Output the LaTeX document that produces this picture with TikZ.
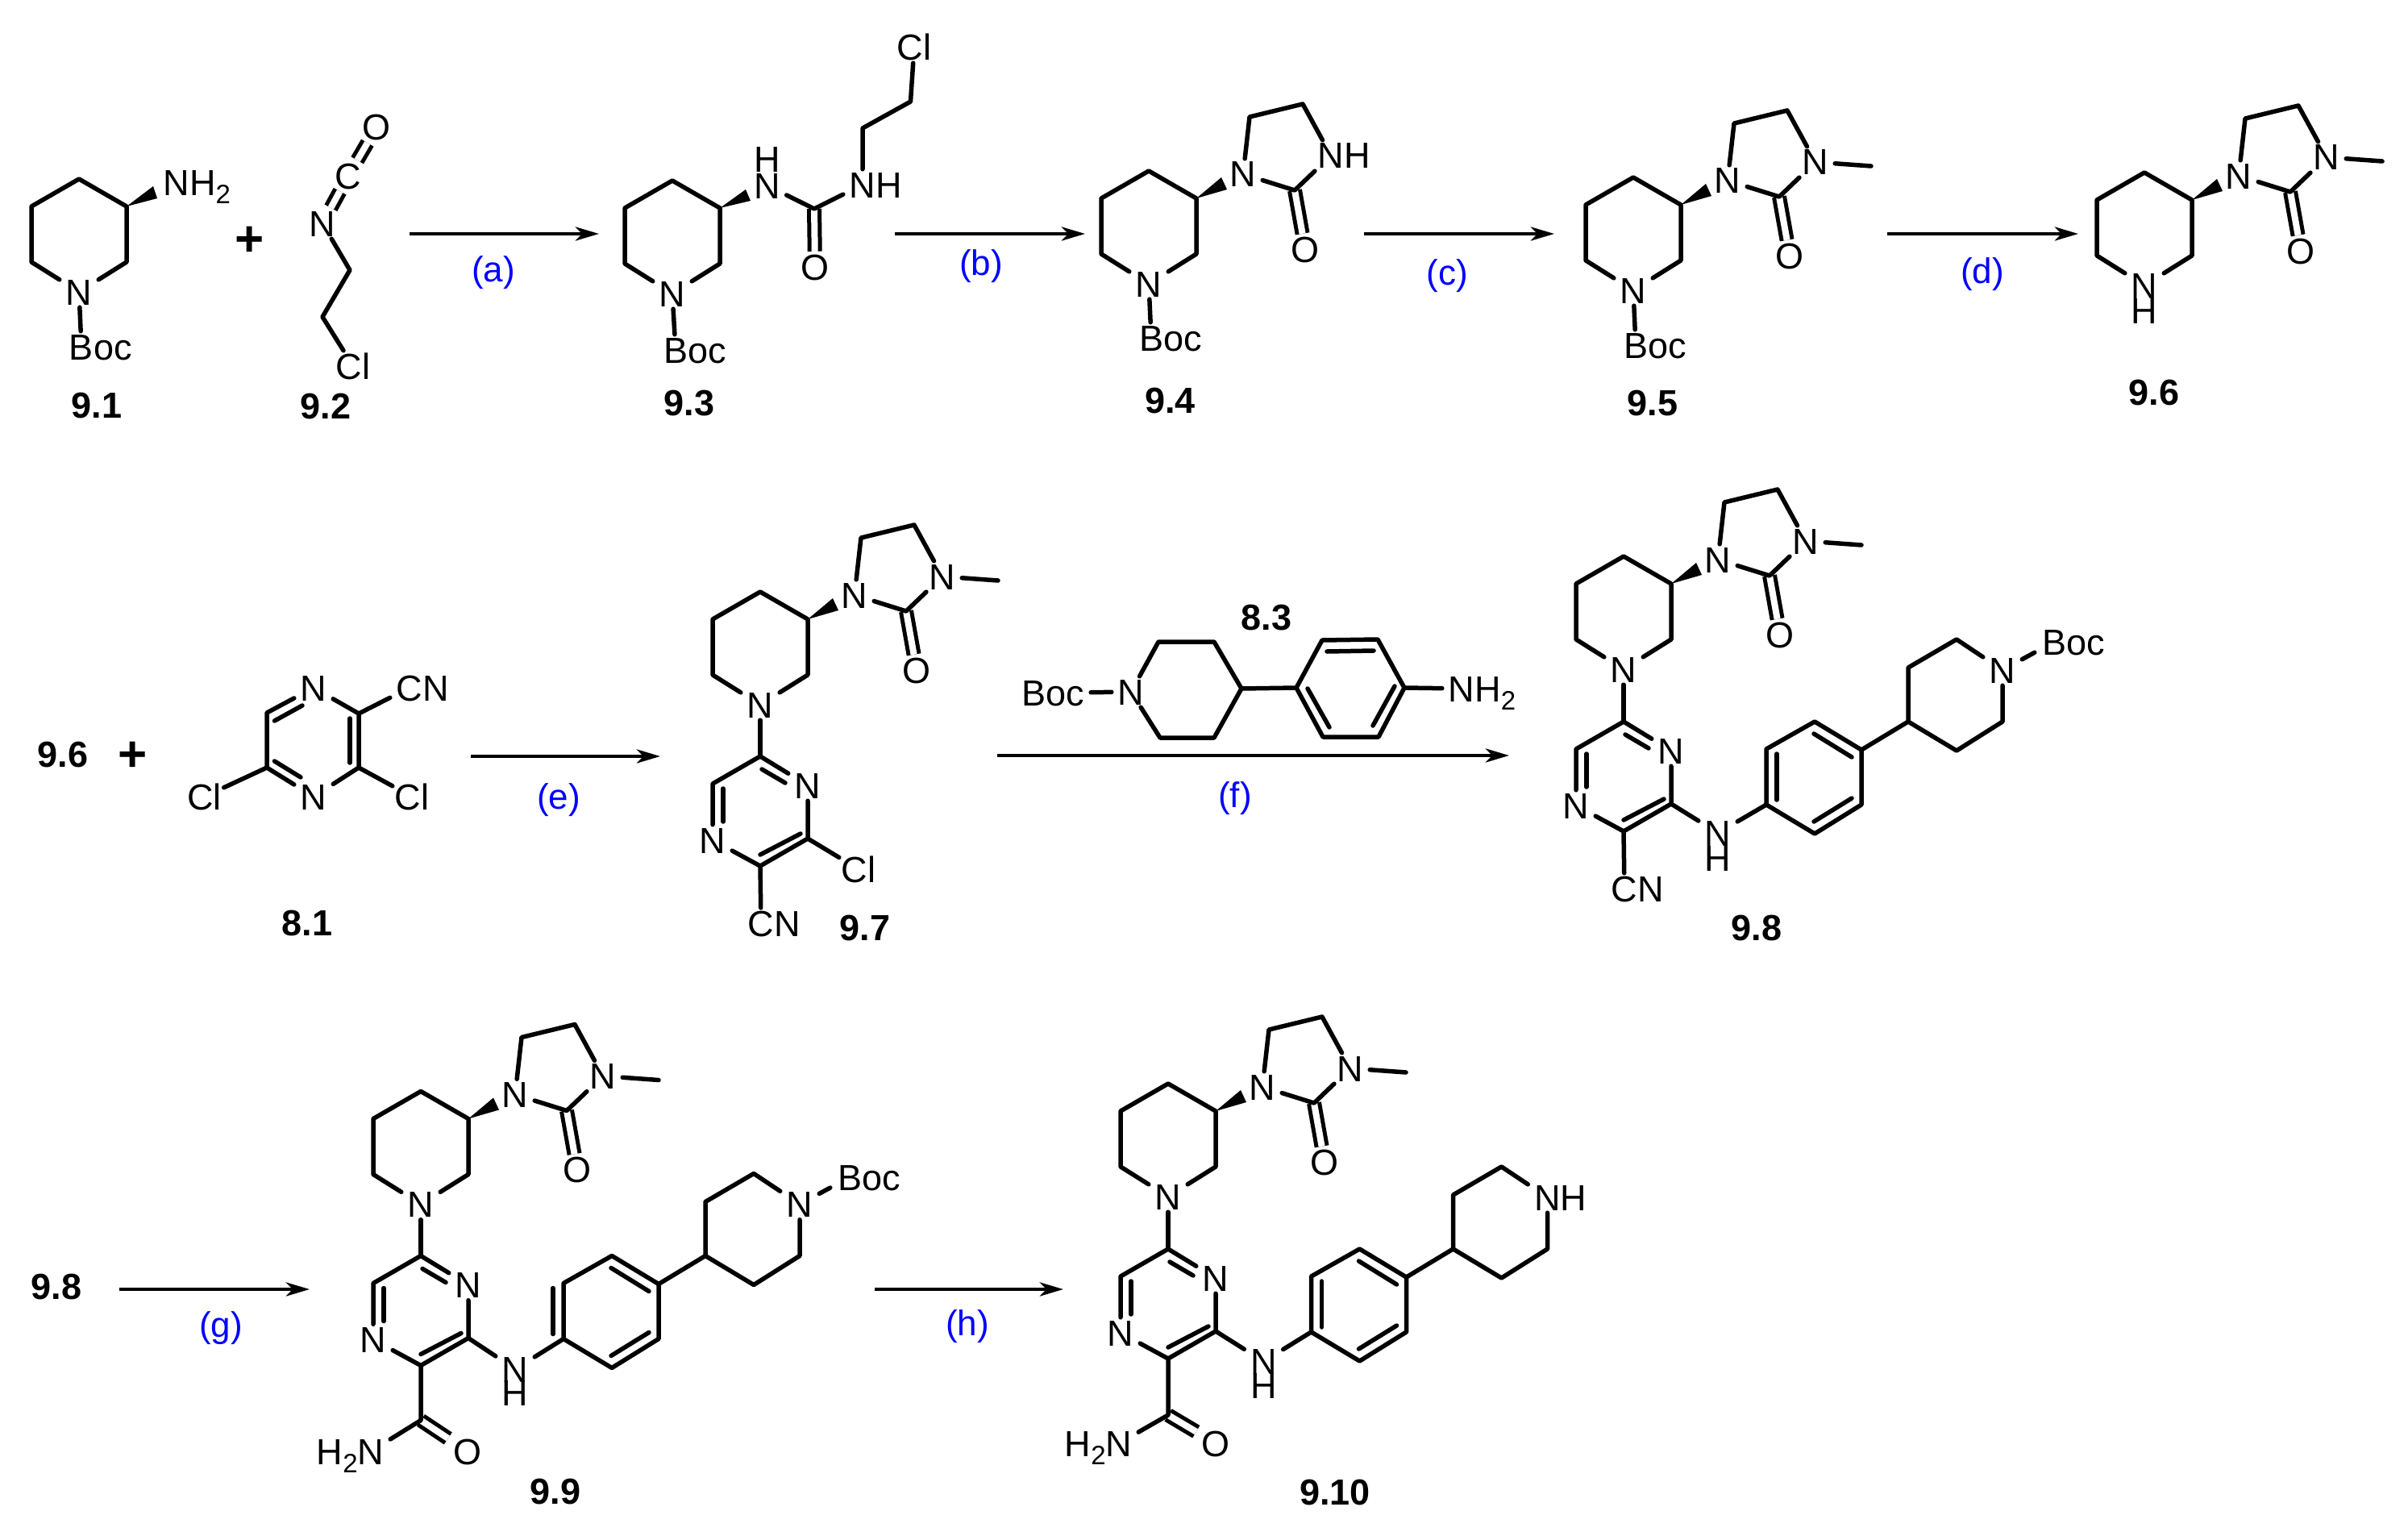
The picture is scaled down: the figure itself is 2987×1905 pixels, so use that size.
\documentclass[tikz,border=0pt]{standalone}
\usepackage{fontspec}
\setmainfont{Liberation Sans}
\usetikzlibrary{arrows.meta}
\newcommand{\subtwo}{\raisebox{-10pt}{\fontsize{33}{33}\selectfont 2}}
\tikzset{
  atom/.style={inner sep=0pt,minimum width=48pt,minimum height=38pt,text height=32pt,text depth=0pt,font=\fontsize{45}{50}\selectfont},
  cpd/.style={inner sep=0pt,text height=32pt,text depth=0pt,font=\fontsize{45}{50}\selectfont\bfseries},
  plus/.style={inner sep=0pt,font=\fontsize{62}{66}\selectfont\bfseries},
  cond/.style={inner sep=0pt,text=blue,font=\fontsize{44}{50}\selectfont},
  bond/.style={line width=5.5pt,line cap=round,line join=round},
  dbond/.style={line width=5pt,double,double distance=8pt,line cap=butt},
  rxn/.style={line width=4.5pt,-{Stealth[length=29pt,width=17pt,inset=8pt]}},
  pics/piper/.style={code={
    \node[atom] (-n) at (0,0) {N};
    \coordinate (-ll) at (-59,-37);
    \coordinate (-ul) at (-59,-106);
    \coordinate (-t) at (0,-140);
    \coordinate (-ur) at (59,-106);
    \coordinate (-lr) at (59,-37);
    \draw[bond] (-n) -- (-ll) -- (-ul) -- (-t) -- (-ur) -- (-lr) -- (-n);
  }},
  pics/imidaz/.style={code={
    \node[atom] (-n1) at (117,-136) {N};
    \node[atom] (-n3) at (226,-159) {#1};
    \node[atom] (-o) at (194,-43) {O};
    \coordinate (-c3) at (59,-106);
    \coordinate (-w1) at (90,-132);
    \coordinate (-w2) at (97,-117);
    \coordinate (-c4) at (125,-207);
    \coordinate (-c5) at (191,-223);
    \coordinate (-c2) at (181,-116);
    \coordinate (-me) at (295,-154);
    \draw[dbond] (-c2) -- (-o);
    \fill (-c3) -- (-w1) -- (-w2) -- cycle;
    \draw[bond] (-n1) -- (-c4) -- (-c5) -- (-n3) -- (-c2) -- (-n1);
  }},
  pics/pyraz/.style={code={
    \node[atom] (-n1) at (-59,104) {N};
    \node[atom] (-n4) at (59,36) {N};
    \coordinate (-c5) at (0,0);
    \coordinate (-c6) at (-59,34);
    \coordinate (-c2) at (0,136);
    \coordinate (-c3) at (59,102);
    \coordinate (-i1) at (2,16);
    \coordinate (-i2) at (31,33);
    \coordinate (-i3) at (-46,40);
    \coordinate (-i4) at (-46,81);
    \coordinate (-i5) at (50,96);
    \coordinate (-i6) at (0,122);
    \draw[bond] (-n4) -- (-c5) -- (-c6) -- (-n1) -- (-c2) -- (-c3) -- (-n4);
    \draw[bond] (-i1) -- (-i2);
    \draw[bond] (-i3) -- (-i4);
    \draw[bond] (-i5) -- (-i6);
  }},
  pics/arylpip/.style 2 args={code={
    \node[atom] (-n) at (293,-167) {#2};
    \coordinate (-a1) at (0,0);
    \coordinate (-a2) at (0,-69);
    \coordinate (-a3) at (60,-103);
    \coordinate (-a4) at (118,-68);
    \coordinate (-a5) at (118,0);
    \coordinate (-a6) at (60,36);
    \coordinate (-p1) at (176,-103);
    \coordinate (-p2) at (176,-170);
    \coordinate (-p3) at (236,-205);
    \coordinate (-p4) at (293,-103);
    \coordinate (-p5) at (236,-67);
    \coordinate (-i1) at (59,-88);
    \coordinate (-i2) at (106,-59);
    \coordinate (-i3) at (#1,-63);
    \coordinate (-i4) at (#1,-6);
    \coordinate (-i5) at (59,21);
    \coordinate (-i6) at (106,-8);
    \draw[bond] (-a1) -- (-a2) -- (-a3) -- (-a4) -- (-a5) -- (-a6) -- (-a1);
    \draw[bond] (-i1) -- (-i2);
    \draw[bond] (-i3) -- (-i4);
    \draw[bond] (-i5) -- (-i6);
    \draw[bond] (-a4) -- (-p1) -- (-p2) -- (-p3) -- (-n) -- (-p4) -- (-p5) -- (-p1);
  }},
}
\begin{document}
\begin{tikzpicture}[x=1pt,y=-1pt]
\useasboundingbox (0,0) rectangle (2987,1905);
% top row
\pic (m1) at (98,362) {piper};
\node[atom] (m1b) at (101,430) {B\rlap{oc}};
\node[atom] (m1nh) at (219,226) {N\rlap{H\subtwo}};
\coordinate (m1w1) at (190,231);
\coordinate (m1w2) at (195,246);
\draw[bond] (m1-n) -- (m1b);
\fill (m1-ur) -- (m1w1) -- (m1w2) -- cycle;
\node[cpd] (l91) at (120,502) {9.1};
\node[plus] (p1) at (310,299) {+};
\node[atom] (m2o) at (467,158) {O};
\node[atom] (m2c) at (432,218) {C};
\node[atom] (m2n) at (400,277) {N};
\node[atom] (m2cl) at (438,454) {Cl};
\coordinate (m2a) at (434,335);
\coordinate (m2b) at (400,393);
\draw[dbond] (m2n) -- (m2c);
\draw[dbond] (m2c) -- (m2o);
\draw[bond] (m2n) -- (m2a) -- (m2b) -- (m2cl);
\node[cpd] (l92) at (404,503) {9.2};
\coordinate (a1) at (508,290);
\coordinate (a2) at (743,290);
\draw[rxn] (a1) -- (a2);
\node[cond] (ca) at (612,338) {(a)};
\pic (m3) at (834,364) {piper};
\node[atom] (m3b) at (838,434) {B\rlap{oc}};
\node[atom] (m3n) at (951.5,230) {N};
\node[atom] (m3h) at (951.5,198) {H};
\node[atom] (m3o) at (1011,331) {O};
\node[atom] (m3nh) at (1070,229) {N\rlap{H}};
\node[atom] (m3cl) at (1134,59) {Cl};
\coordinate (m3w1) at (925,235);
\coordinate (m3w2) at (931,249);
\coordinate (m3c) at (1010,259);
\coordinate (m3d) at (1070,159);
\coordinate (m3e) at (1129.5,126);
\draw[bond] (m3-n) -- (m3b);
\fill (m3-ur) -- (m3w1) -- (m3w2) -- cycle;
\draw[dbond] (m3c) -- (m3o);
\draw[bond] (m3n) -- (m3c) -- (m3nh) -- (m3d) -- (m3e) -- (m3cl);
\node[cpd] (l93) at (855,499) {9.3};
\coordinate (b1) at (1110,290);
\coordinate (b2) at (1346,290);
\draw[rxn] (b1) -- (b2);
\node[cond] (cb) at (1217,330) {(b)};
\pic (m4) at (1425,352) {piper};
\pic (m4i) at (1425,352) {imidaz={N\rlap{H}}};
\node[atom] (m4b) at (1428,419) {B\rlap{oc}};
\draw[bond] (m4-n) -- (m4b);
\node[cpd] (l94) at (1451.5,496) {9.4};
\coordinate (c1) at (1692,290);
\coordinate (c2) at (1928,290);
\draw[rxn] (c1) -- (c2);
\node[cond] (cc) at (1795,342) {(c)};
\pic (m5) at (2026,360) {piper};
\pic (m5i) at (2026,360) {imidaz=N};
\node[atom] (m5b) at (2029,428) {B\rlap{oc}};
\draw[bond] (m5-n) -- (m5b);
\draw[bond] (m5i-n3) -- (m5i-me);
\node[cpd] (l95) at (2050,499) {9.5};
\coordinate (d1) at (2341,290);
\coordinate (d2) at (2578,290);
\draw[rxn] (d1) -- (d2);
\node[cond] (cd) at (2459,340) {(d)};
\pic (m6) at (2660,354) {piper};
\pic (m6i) at (2660,354) {imidaz=N};
\node[atom] (m6h) at (2660,385) {H};
\draw[bond] (m6i-n3) -- (m6i-me);
\node[cpd] (l96) at (2672,486) {9.6};
% middle row
\node[cpd] (l96b) at (78,935) {9.6};
\node[plus] (p2) at (165,938) {+};
\node[atom] (s1t) at (389,853) {N};
\node[atom] (s1b) at (389,988) {N};
\node[atom] (s1cn) at (508,853) {C\rlap{N}};
\node[atom] (s1cl) at (511,988) {Cl};
\node[atom] (s1cm) at (253.5,988) {Cl};
\coordinate (s1a) at (445,885);
\coordinate (s1c) at (445,952);
\coordinate (s1d) at (331,952);
\coordinate (s1e) at (331,884);
\coordinate (s1i1) at (340.5,894);
\coordinate (s1i2) at (375,875);
\coordinate (s1i3) at (434,891);
\coordinate (s1i4) at (434,946);
\coordinate (s1i5) at (340.5,944);
\coordinate (s1i6) at (373,964);
\draw[bond] (s1t) -- (s1a) -- (s1c) -- (s1b) -- (s1d) -- (s1e) -- (s1t);
\draw[bond] (s1i1) -- (s1i2);
\draw[bond] (s1i3) -- (s1i4);
\draw[bond] (s1i5) -- (s1i6);
\draw[bond] (s1a) -- (s1cn);
\draw[bond] (s1c) -- (s1cl);
\draw[bond] (s1d) -- (s1cm);
\node[cpd] (l81) at (381,1144) {8.1};
\coordinate (e1) at (584,938);
\coordinate (e2) at (819,938);
\draw[rxn] (e1) -- (e2);
\node[cond] (ce) at (693,992) {(e)};
\pic (m7) at (943,874) {piper};
\pic (m7i) at (943,874) {imidaz=N};
\pic (m7z) at (943,938) {pyraz};
\node[atom] (m7cl) at (1065,1078) {Cl};
\node[atom] (m7cn) at (944,1145) {C\rlap{N}};
\draw[bond] (m7-n) -- (m7z-c5);
\draw[bond] (m7z-c3) -- (m7cl);
\draw[bond] (m7z-c2) -- (m7cn);
\draw[bond] (m7i-n3) -- (m7i-me);
\node[cpd] (l97) at (1073,1150) {9.7};
\node[cpd] (l83) at (1571,765) {8.3};
\node[atom,minimum width=38pt] (r3b) at (1334,859) {\llap{Bo}c};
\node[atom] (r3n) at (1403,858) {N};
\node[atom] (r3nh) at (1813,854) {N\rlap{H\subtwo}};
\coordinate (r3a) at (1437,796);
\coordinate (r3c) at (1506,796);
\coordinate (r3d) at (1540,854);
\coordinate (r3e) at (1506,915);
\coordinate (r3f) at (1439,915);
\coordinate (r3g) at (1608,853);
\coordinate (r3h) at (1640,794);
\coordinate (r3j) at (1709,793);
\coordinate (r3k) at (1742,853);
\coordinate (r3l) at (1710,914);
\coordinate (r3m) at (1641,914);
\coordinate (r3i1) at (1646,808);
\coordinate (r3i2) at (1704,807);
\coordinate (r3i3) at (1622,854);
\coordinate (r3i4) at (1649,902);
\coordinate (r3i5) at (1730,851);
\coordinate (r3i6) at (1703,900);
\draw[bond] (r3b) -- (r3n);
\draw[bond] (r3n) -- (r3a) -- (r3c) -- (r3d) -- (r3e) -- (r3f) -- (r3n);
\draw[bond] (r3d) -- (r3g) -- (r3h) -- (r3j) -- (r3k) -- (r3l) -- (r3m) -- (r3g);
\draw[bond] (r3k) -- (r3nh);
\draw[bond] (r3i1) -- (r3i2);
\draw[bond] (r3i3) -- (r3i4);
\draw[bond] (r3i5) -- (r3i6);
\coordinate (f1) at (1237,937);
\coordinate (f2) at (1872,937);
\draw[rxn] (f1) -- (f2);
\node[cond] (cf) at (1532,990) {(f)};
\pic (m8) at (2014,830) {piper};
\pic (m8i) at (2014,830) {imidaz=N};
\pic (m8z) at (2014,895) {pyraz};
\pic (m8a) at (2191,998) {arylpip={13}{N}};
\node[atom] (m8n) at (2131,1033) {N};
\node[atom] (m8h) at (2131,1064) {H};
\node[atom] (m8cn) at (2015,1102) {C\rlap{N}};
\node[atom] (m8b) at (2548,796) {B\rlap{oc}};
\draw[bond] (m8-n) -- (m8z-c5);
\draw[bond] (m8i-n3) -- (m8i-me);
\draw[bond] (m8z-c3) -- (m8n) -- (m8a-a1);
\draw[bond] (m8z-c2) -- (m8cn);
\draw[bond] (m8a-n) -- (m8b);
\node[cpd] (l98) at (2179,1150) {9.8};
% bottom row
\node[cpd] (l98b) at (70,1595) {9.8};
\coordinate (g1) at (148,1599);
\coordinate (g2) at (384,1599);
\draw[rxn] (g1) -- (g2);
\node[cond] (cg) at (274,1647) {(g)};
\pic (m9) at (522,1493.5) {piper};
\pic (m9i) at (522,1493.5) {imidaz=N};
\pic (m9z) at (522,1557.5) {pyraz};
\pic (m9a) at (699,1660.5) {arylpip={-13}{N}};
\node[atom] (m9n) at (639,1698) {N};
\node[atom] (m9h) at (639,1727) {H};
\node[atom] (m9o) at (580,1800) {O};
\node[atom] (m9nh) at (460,1800) {\llap{H\subtwo}N};
\node[atom] (m9b) at (1054,1460) {B\rlap{oc}};
\coordinate (m9c) at (522,1761.5);
\draw[bond] (m9-n) -- (m9z-c5);
\draw[bond] (m9i-n3) -- (m9i-me);
\draw[bond] (m9z-c3) -- (m9n) -- (m9a-a1);
\draw[dbond] (m9c) -- (m9o);
\draw[bond] (m9z-c2) -- (m9c) -- (m9nh);
\draw[bond] (m9a-n) -- (m9b);
\node[cpd] (l99) at (689,1849) {9.9};
\coordinate (h1) at (1085,1599);
\coordinate (h2) at (1319,1599);
\draw[rxn] (h1) -- (h2);
\node[cond] (ch) at (1200,1645) {(h)};
\pic (m10) at (1449,1484) {piper};
\pic (m10i) at (1449,1484) {imidaz=N};
\pic (m10z) at (1449,1549) {pyraz};
\pic (m10a) at (1626.5,1652) {arylpip={13}{N\rlap{H}}};
\node[atom] (m10n) at (1567.5,1688.5) {N};
\node[atom] (m10h) at (1567.5,1718.5) {H};
\node[atom] (m10o) at (1508,1790) {O};
\node[atom] (m10nh) at (1388,1790) {\llap{H\subtwo}N};
\coordinate (m10c) at (1449,1755);
\draw[bond] (m10-n) -- (m10z-c5);
\draw[bond] (m10i-n3) -- (m10i-me);
\draw[bond] (m10z-c3) -- (m10n) -- (m10a-a1);
\draw[dbond] (m10c) -- (m10o);
\draw[bond] (m10z-c2) -- (m10c) -- (m10nh);
\node[cpd] (l910) at (1656,1850) {9.10};
\end{tikzpicture}
\end{document}
